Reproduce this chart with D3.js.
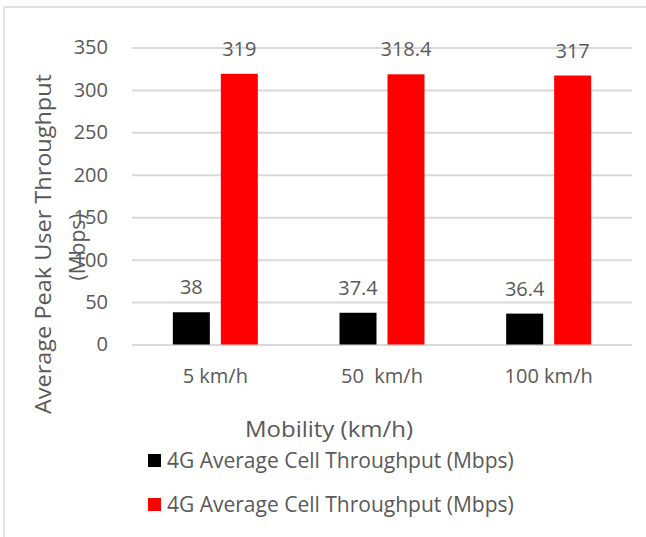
<!DOCTYPE html>
<html>
<head>
<meta charset="utf-8">
<script src="https://cdn.jsdelivr.net/npm/d3@7"></script>
<style>
  html, body { margin: 0; padding: 0; background: #fff; }
  svg { display: block; }
  text { font-family: "Open Sans", "Noto Sans", sans-serif; fill: #595959; }
</style>
</head>
<body>
<svg id="chart" width="646" height="537"></svg>
<script>
// Mobility categories and per-series throughput values (Mbps)
const categories = ["5 km/h", "50  km/h", "100 km/h"];
const seriesNames = ["4G Average Cell Throughput (Mbps)", "4G Average Cell Throughput (Mbps)"];
const seriesColors = ["#000000", "#ff0000"];
const blackValues = [38, 37.4, 36.4];
const redValues = [319, 318.4, 317];
const yTicks = [0, 50, 100, 150, 200, 250, 300, 350];
const yTitleLines = ["Average Peak User Throughput", "(Mbps)"];
const xTitle = "Mobility (km/h)";

const seriesValues = [blackValues, redValues];

const svg = d3.select("#chart");
const W = 646, H = 537;
const plot = { left: 132, right: 632, top: 47.5, bottom: 344.5 };

// Frame lines along the top and left edges
svg.append("line").attr("x1", 4).attr("x2", W).attr("y1", 7).attr("y2", 7)
  .attr("stroke", "#d9d9d9").attr("stroke-width", 1.5);
svg.append("line").attr("x1", 4).attr("x2", 4).attr("y1", 7).attr("y2", H)
  .attr("stroke", "#d9d9d9").attr("stroke-width", 1.5);

const x0 = d3.scaleBand().domain(categories).range([plot.left, plot.right]).padding(0);
const x1 = d3.scaleBand().domain(d3.range(seriesNames.length))
  .range([0, x0.bandwidth()]).paddingInner(0.229).paddingOuter(0.851);
const y = d3.scaleLinear().domain([0, 350]).range([plot.bottom, plot.top]);

// Horizontal gridlines + tick labels
const yAxis = d3.axisLeft(y).tickValues(yTicks).tickSize(-(plot.right - plot.left)).tickPadding(24);
const gy = svg.append("g").attr("transform", `translate(${plot.left},0)`).call(yAxis);
gy.select(".domain").remove();
gy.selectAll(".tick line").attr("stroke", "#d9d9d9").attr("stroke-width", 2);
gy.selectAll(".tick text").attr("font-size", 20).attr("fill", "#595959")
  .attr("font-family", "Open Sans, Noto Sans, sans-serif");

// Category axis labels
const xAxis = d3.axisBottom(x0).tickSize(0).tickPadding(24);
const gx = svg.append("g").attr("transform", `translate(0,${plot.bottom})`).call(xAxis);
gx.select(".domain").remove();
gx.selectAll(".tick text").attr("font-size", 20).attr("fill", "#595959")
  .attr("font-family", "Open Sans, Noto Sans, sans-serif")
  .style("white-space", "pre").attr("xml:space", "preserve");

// Bars
const groups = svg.append("g").selectAll("g").data(categories).join("g")
  .attr("transform", d => `translate(${x0(d)},0)`);
groups.selectAll("rect")
  .data((c, i) => seriesValues.map((vals, s) => ({ s, v: vals[i] })))
  .join("rect")
  .attr("x", d => x1(d.s))
  .attr("width", x1.bandwidth())
  .attr("y", d => y(d.v))
  .attr("height", d => y(0) - y(d.v))
  .attr("fill", d => seriesColors[d.s]);

// Value labels above bars
groups.selectAll("text.val")
  .data((c, i) => seriesValues.map((vals, s) => ({ s, v: vals[i] })))
  .join("text").attr("class", "val")
  .attr("x", d => x1(d.s) + x1.bandwidth() / 2)
  .attr("y", d => y(d.v) - 18)
  .attr("text-anchor", "middle")
  .attr("font-size", 20)
  .text(d => d.v);

// Y axis title (two lines, rotated)
const yTitle = svg.append("g").attr("transform", "translate(0,244)");
yTitle.append("text").attr("transform", "translate(51,0) rotate(-90)")
  .attr("text-anchor", "middle").attr("font-size", 21)
  .attr("textLength", 340).attr("lengthAdjust", "spacingAndGlyphs")
  .text(yTitleLines[0]);
yTitle.append("text").attr("transform", "translate(85,3) rotate(-90)")
  .attr("text-anchor", "middle").attr("font-size", 21)
  .text(yTitleLines[1]);

// X axis title
svg.append("text").attr("x", 329).attr("y", 437)
  .attr("text-anchor", "middle").attr("font-size", 21)
  .attr("textLength", 168).attr("lengthAdjust", "spacingAndGlyphs")
  .text(xTitle);

// Legend
const legend = svg.append("g").selectAll("g").data(seriesNames).join("g")
  .attr("transform", (d, i) => `translate(148,${454 + i * 44})`);
legend.append("rect").attr("width", 13).attr("height", 13)
  .attr("fill", (d, i) => seriesColors[i]);
legend.append("text").attr("x", 19).attr("y", 14)
  .attr("font-size", 21).text(d => d);
</script>
</body>
</html>
